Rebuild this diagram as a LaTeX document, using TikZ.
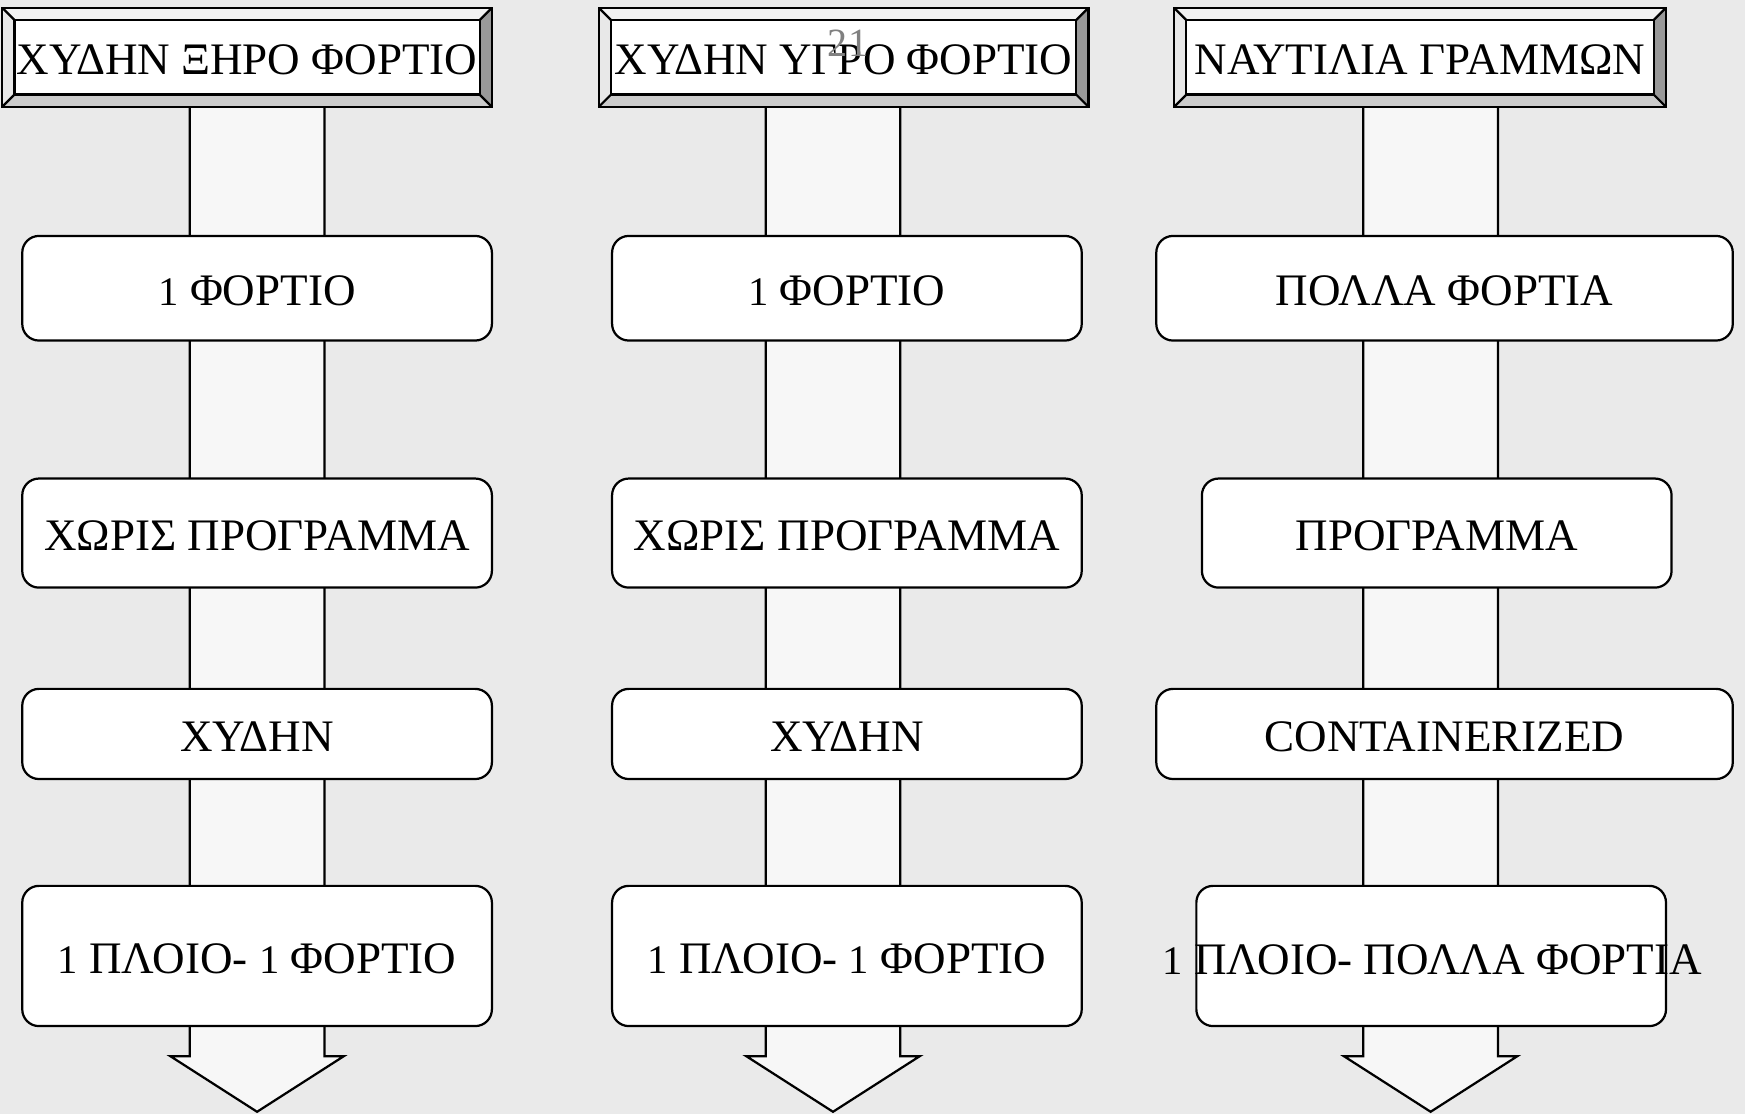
\documentclass[tikz,border=0pt]{standalone}
\usepackage{fontspec}
\setmainfont{Liberation Serif}
\usepackage{graphicx}
\definecolor{bg}{HTML}{EAEAEA}
\definecolor{shaft}{HTML}{F7F7F7}
\definecolor{bevtop}{HTML}{F2F2F2}
\definecolor{bevleft}{HTML}{E8E8E8}
\definecolor{bevbot}{HTML}{CCCCCC}
\definecolor{bevright}{HTML}{999999}
\newcommand\one{\scalebox{0.9}{1}}
\newcommand\blockarrow[1]{%
  \fill[shaft] ({#1-60.5},97) -- ({#1-60.5},949) -- ({#1-78},949) -- (#1,999) -- ({#1+78},949) -- ({#1+60.5},949) -- ({#1+60.5},97) -- cycle;
  \draw[edge] ({#1-60.5},97) -- ({#1-60.5},949) -- ({#1-78},949) -- (#1,999) -- ({#1+78},949) -- ({#1+60.5},949) -- ({#1+60.5},97);
}
\newcommand\bevelbox[4]{%
  \fill[bevtop] (#1,7) -- (#2,7) -- ({#2-11},18) -- ({#1+11},18) -- cycle;
  \fill[bevleft] (#1,7) -- ({#1+11},18) -- ({#1+11},85) -- (#1,96) -- cycle;
  \fill[bevbot] (#1,96) -- ({#1+11},85) -- ({#2-11},85) -- (#2,96) -- cycle;
  \fill[bevright] (#2,7) -- (#2,96) -- ({#2-11},85) -- ({#2-11},18) -- cycle;
  \draw[edge] (#1,7) -- ({#1+11},18) (#2,7) -- ({#2-11},18) (#1,96) -- ({#1+11},85) (#2,96) -- ({#2-11},85);
  \draw[edge] (#1,7) rectangle (#2,96);
  \node[headin, minimum width={#2-#1-22}] (#3) at ({(#1+#2)/2},51.5) {#4};
}
\begin{document}
\begin{tikzpicture}[x=1pt,y=-1pt,
  edge/.style={draw=black, line width=2pt, line join=miter},
  txt/.style={inner sep=0pt, text height=31pt, text depth=0pt, font=\fontsize{40.5}{44}\selectfont},
  headin/.style={txt, draw=black, line width=2pt, fill=white, minimum height=67pt},
  box/.style={txt, draw=black, line width=2pt, fill=white, rounded corners=15pt},
]
\fill[bg] (0,0) rectangle (1568,1001);
\useasboundingbox (0,0) rectangle (1568,1001);

% block arrows
\blockarrow{231}
\blockarrow{748.5}
\blockarrow{1285.5}

% headers
\bevelbox{2}{442}{h1}{ΧΥΔΗΝ ΞΗΡΟ ΦΟΡΤΙΟ}
\bevelbox{538}{978}{h2}{ΧΥΔΗΝ ΥΓΡΟ ΦΟΡΤΙΟ}
\bevelbox{1055}{1497}{h3}{ΝΑΥΤΙΛΙΑ ΓΡΑΜΜΩΝ}

% column 1
\node[box, minimum width=422pt, minimum height=94pt] (a1) at (231,259) {\one\ ΦΟΡΤΙΟ};
\node[box, minimum width=422pt, minimum height=98pt] (a2) at (231,479) {ΧΩΡΙΣ ΠΡΟΓΡΑΜΜΑ};
\node[box, minimum width=422pt, minimum height=81pt] (a3) at (231,659.5) {ΧΥΔΗΝ};
\node[box, minimum width=422pt, minimum height=126pt] (a4) at (231,859) {\one\ ΠΛΟΙΟ- \one\ ΦΟΡΤΙΟ};

% column 2
\node[box, minimum width=422pt, minimum height=94pt] (b1) at (761,259) {\one\ ΦΟΡΤΙΟ};
\node[box, minimum width=422pt, minimum height=98pt] (b2) at (761,479) {ΧΩΡΙΣ ΠΡΟΓΡΑΜΜΑ};
\node[box, minimum width=422pt, minimum height=81pt] (b3) at (761,659.5) {ΧΥΔΗΝ};
\node[box, minimum width=422pt, minimum height=126pt] (b4) at (761,859) {\one\ ΠΛΟΙΟ- \one\ ΦΟΡΤΙΟ};

% column 3
\node[box, minimum width=518pt, minimum height=94pt] (c1) at (1298,259) {ΠΟΛΛΑ ΦΟΡΤΙΑ};
\node[box, minimum width=422pt, minimum height=98pt] (c2) at (1291,479) {ΠΡΟΓΡΑΜΜΑ};
\node[box, minimum width=518pt, minimum height=81pt] (c3) at (1298,659.5) {CONTAINERIZED};
\node[box, minimum width=422pt, minimum height=126pt] (c4) at (1286,859) {};
\node[txt] (c4t) at (1287,860) {\one\ ΠΛΟΙΟ- ΠΟΛΛΑ ΦΟΡΤΙΑ};

% page number
\node[text=black!50, font=\fontsize{36}{38}\selectfont, inner sep=0pt] (pg) at (762,39) {21};
\end{tikzpicture}
\end{document}
